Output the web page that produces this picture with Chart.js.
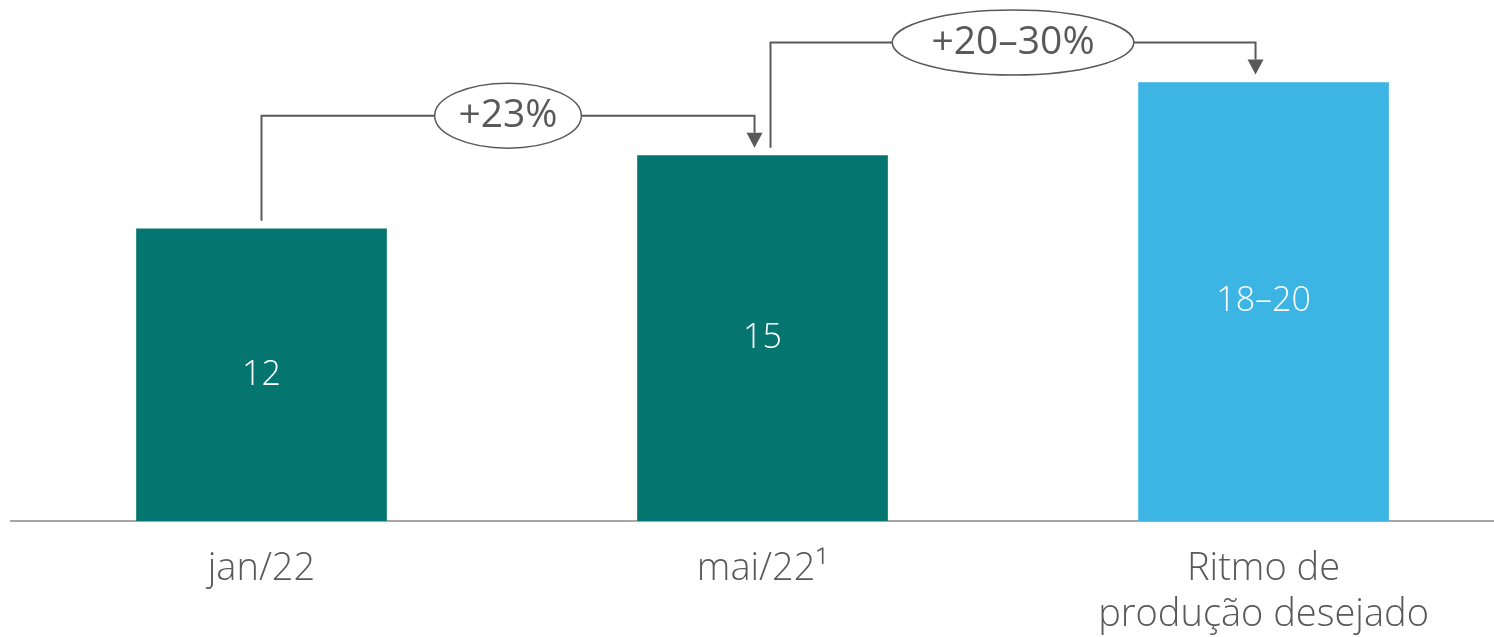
<!DOCTYPE html>
<html>
<head>
<meta charset="utf-8">
<script src="https://cdn.jsdelivr.net/npm/chart.js@4"></script>
<style>
  html, body { margin: 0; padding: 0; background: #ffffff; overflow: hidden; }
  #wrap { width: 1494px; height: 637px; position: relative; }
</style>
</head>
<body>
<div id="wrap"><canvas id="chart"></canvas></div>
<script>
// Production pace per period
const categories = [['jan/22'], ['mai/22¹'], ['Ritmo de', 'produção desejado']];
const values = [12, 15, 18];
const valueLabels = ['12', '15', '18–20'];
const barColors = ['#04756F', '#04756F', '#3DB5E4'];

// Growth steps between bars
const stepFrom = [0, 1];
const stepTo = [1, 2];
const stepLabels = ['+23%', '+20–30%'];

const FONT = "'Open Sans', 'Noto Sans', sans-serif";
const INK = '#595959';

// White value label centred inside each bar
const barLabelPlugin = {
  id: 'barLabels',
  afterDatasetsDraw(chart) {
    const ctx = chart.ctx;
    const meta = chart.getDatasetMeta(0);
    ctx.save();
    ctx.fillStyle = '#ffffff';
    ctx.font = `300 34px ${FONT}`;
    ctx.textAlign = 'center';
    ctx.textBaseline = 'middle';
    meta.data.forEach((bar, i) => {
      ctx.fillText(valueLabels[i], bar.x, (bar.y + bar.base) / 2);
    });
    ctx.restore();
  }
};

// Elbow connectors with arrowheads and an oval growth label
const stepPlugin = {
  id: 'steps',
  afterDatasetsDraw(chart) {
    const ctx = chart.ctx;
    const meta = chart.getDatasetMeta(0);
    ctx.save();
    ctx.font = `400 39px ${FONT}`;
    stepFrom.forEach((from, k) => {
      const to = stepTo[k];
      const src = meta.data[from];
      const dst = meta.data[to];
      const sx = src.x + (stepTo.includes(from) ? 8 : 0);
      const dx = dst.x - 8;
      const sy = src.y - 8;
      const ly = dst.y - 40;
      const tip = dst.y - 8;
      const head = 15;

      ctx.strokeStyle = INK;
      ctx.lineWidth = 2;
      ctx.beginPath();
      ctx.moveTo(sx, sy);
      ctx.lineTo(sx, ly);
      ctx.lineTo(dx, ly);
      ctx.lineTo(dx, tip - head);
      ctx.stroke();

      ctx.fillStyle = INK;
      ctx.beginPath();
      ctx.moveTo(dx - 8, tip - head);
      ctx.lineTo(dx + 8, tip - head);
      ctx.lineTo(dx, tip);
      ctx.closePath();
      ctx.fill();

      const cx = (sx + dx) / 2;
      const tw = ctx.measureText(stepLabels[k]).width;
      ctx.beginPath();
      ctx.ellipse(cx, ly, tw * 0.74, 32.5, 0, 0, Math.PI * 2);
      ctx.fillStyle = '#ffffff';
      ctx.fill();
      ctx.lineWidth = 1.5;
      ctx.strokeStyle = INK;
      ctx.stroke();

      ctx.fillStyle = INK;
      ctx.textAlign = 'center';
      ctx.textBaseline = 'middle';
      ctx.fillText(stepLabels[k], cx, ly);
    });
    ctx.restore();
  }
};

new Chart(document.getElementById('chart'), {
  type: 'bar',
  data: {
    datasets: [{
      data: values.map((v, i) => ({ x: i, y: v })),
      backgroundColor: barColors,
      borderWidth: 0,
      barThickness: 250
    }]
  },
  options: {
    responsive: true,
    maintainAspectRatio: false,
    animation: false,
    layout: { padding: { left: 11, right: 0, top: 0, bottom: 0 } },
    plugins: { legend: { display: false }, tooltip: { enabled: false } },
    scales: {
      x: {
        type: 'linear',
        offset: false,
        min: -0.5,
        max: 2.46,
        grid: { display: false },
        border: { display: true, color: '#A6A6A6', width: 2 },
        afterBuildTicks(scale) {
          scale.ticks = categories.map((c, i) => ({ value: i }));
        },
        afterFit(scale) { scale.height = 116; },
        ticks: {
          padding: 17,
          color: INK,
          font: { family: FONT, size: 38, weight: '300', lineHeight: 1.22 },
          maxRotation: 0,
          autoSkip: false,
          callback: (v) => categories[v]
        }
      },
      y: {
        display: false,
        min: 0,
        max: 21.39
      }
    }
  },
  plugins: [barLabelPlugin, stepPlugin]
});
</script>
</body>
</html>
